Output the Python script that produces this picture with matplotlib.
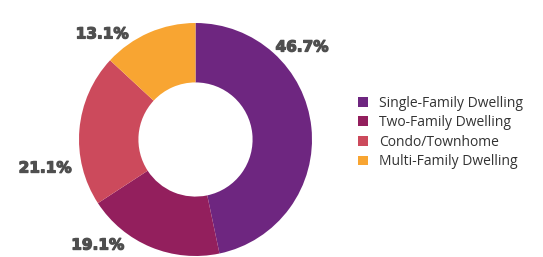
import matplotlib
matplotlib.use("Agg")
import matplotlib.pyplot as plt
from matplotlib.patches import Patch
from matplotlib.font_manager import FontProperties
import matplotlib.patheffects as pe

categories = ["Single-Family Dwelling", "Two-Family Dwelling", "Condo/Townhome", "Multi-Family Dwelling"]
values = [46.7, 19.1, 21.1, 13.1]
labels = ["46.7%", "19.1%", "21.1%", "13.1%"]
colors = ["#6E2680", "#931F5D", "#CC4A5C", "#F8A532"]
label_pos = [(0.914, 0.794), (-0.841, -0.906), (-1.292, -0.245), (-0.803, 0.906)]

W, H = 543, 257
fig = plt.figure(figsize=(W / 100, H / 100), dpi=100)
ax = fig.add_axes([0, 0, 1, 1])
cx, cy, R = 195.5, 139.5, 116.5

ax.pie(values, colors=colors, startangle=90, counterclock=False, radius=1,
       wedgeprops=dict(width=0.51, linewidth=0))
ax.set_aspect("auto")
ax.set_xlim(-cx / R, (W - cx) / R)
ax.set_ylim((cy - H) / R, cy / R)
ax.axis("off")

lab_font = FontProperties(family="DejaVu Sans", weight="bold", style="normal", size=11)
for (x, y), t in zip(label_pos, labels):
    ax.text(x, y, t, ha="center", va="center", fontproperties=lab_font, color="#4F4F4F",
            path_effects=[pe.withStroke(linewidth=0.9, foreground="#4F4F4F")])

handles = [Patch(facecolor=c, edgecolor="none") for c in colors]
fig.legend(handles, categories, loc="center left", bbox_to_anchor=(345 / W, 1 - 132.5 / H),
           frameon=False, handlelength=0.72, handleheight=0.72,
           handletextpad=0.85, labelspacing=0.33,
           prop=FontProperties(family="Open Sans", style="normal", size=10),
           labelcolor="#333333")

fig.savefig("out.png", dpi=100)
